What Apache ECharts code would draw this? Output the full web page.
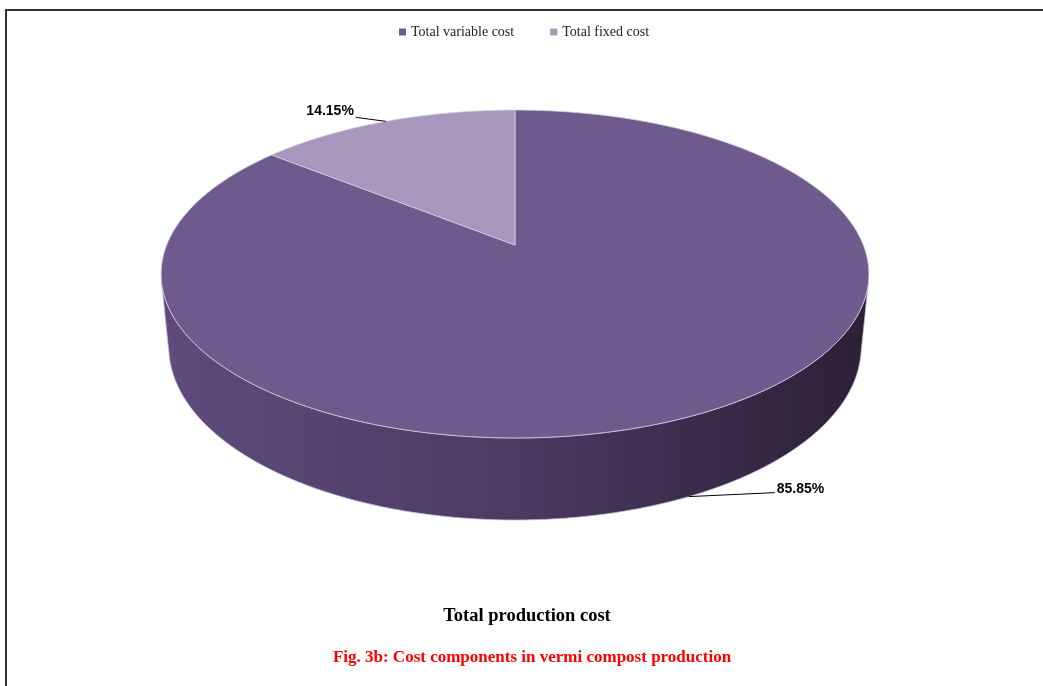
<!DOCTYPE html>
<html>
<head>
<meta charset="utf-8">
<script src="https://cdn.jsdelivr.net/npm/echarts@6/dist/echarts.min.js"></script>
<style>
  html, body { margin: 0; padding: 0; background: #fff; }
  #chart { width: 1043px; height: 686px; }
</style>
</head>
<body>
<div id="chart"></div>
<script>
// ---- data ----
const categories = ['Total variable cost', 'Total fixed cost'];
const values = [85.85, 14.15];
const chartTitle = 'Total production cost';
const caption = 'Fig. 3b: Cost components in vermi compost production';

// ---- styles / layout ----
const topColors = ['#6f5a8e', '#a797bc'];
const wallGradients = [
  ['#5f4b7c', '#4a3b62', '#2a2036'],
  ['#8a7aa2', '#76688e', '#554a66']
];
const LEADER = [86, 30];

// perspective projection of a tilted cylinder (pie)
const CX = 515, CY = 245, F = 1753, D = 5.033, H = 0.237;
const SA = 0.456, CA = Math.sqrt(1 - SA * SA);
function proj(theta, y) {
  const u = Math.sin(theta), v = Math.cos(theta);
  const yc = y * CA + v * SA;
  const zc = D - y * SA + v * CA;
  return [CX + F * u / zc, CY - F * yc / zc];
}
const VIS_LIMIT = -1 / (D * CA); // cos(theta) below this -> wall faces viewer
const visA = Math.acos(VIS_LIMIT), visB = 2 * Math.PI - visA;

const total = values.reduce((a, b) => a + b, 0);
function angles(i) {
  let s = 0;
  for (let k = 0; k < i; k++) s += values[k];
  return [s / total * 2 * Math.PI, (s + values[i]) / total * 2 * Math.PI];
}

function renderSlice(params, api) {
  const i = params.seriesIndex;
  const [a0, a1] = angles(i);
  const children = [];
  const step = Math.PI / 360;

  // outer wall (front-facing part only)
  const w0 = Math.max(a0, visA), w1 = Math.min(a1, visB);
  if (w1 > w0) {
    const pts = [];
    for (let t = w0; t < w1; t += step) pts.push(proj(t, 0));
    pts.push(proj(w1, 0));
    const bottom = [];
    for (let t = w0; t < w1; t += step) bottom.push(proj(t, -H));
    bottom.push(proj(w1, -H));
    const poly = pts.concat(bottom.reverse());
    const g = wallGradients[i];
    const grad = new echarts.graphic.LinearGradient(CX - 354, 0, CX + 354, 0, [
      { offset: 0, color: g[0] }, { offset: 0.5, color: g[1] }, { offset: 1, color: g[2] }
    ], true);
    children.push({
      type: 'polygon', z2: 1,
      shape: { points: poly },
      style: { fill: grad, stroke: '#c9c0d6', lineWidth: 0.8 }
    });
  }

  // top face
  const topPts = [[CX, CY]];
  for (let t = a0; t < a1; t += step) topPts.push(proj(t, 0));
  topPts.push(proj(a1, 0));
  children.push({
    type: 'polygon', z2: 10,
    shape: { points: topPts },
    style: { fill: topColors[i], stroke: '#d6cfe0', lineWidth: 0.8 }
  });

  // label with leader line
  const m = (a0 + a1) / 2;
  const front = Math.cos(m) < VIS_LIMIT;
  const anchor = proj(m, front ? -H : 0);
  const dir = Math.sin(m) >= 0 ? 1 : -1;
  const end = [anchor[0] + dir * LEADER[i], anchor[1] - 4];
  children.push({
    type: 'polyline', z2: 20,
    shape: { points: [anchor, end] },
    style: { stroke: '#000', lineWidth: 1, fill: null }
  });
  children.push({
    type: 'text', z2: 20,
    x: end[0] + dir * 2, y: end[1] - (front ? 3 : 6),
    style: {
      text: (values[i] / total * 100).toFixed(2) + '%',
      textAlign: dir > 0 ? 'left' : 'right',
      textVerticalAlign: 'middle',
      font: 'bold 14px "Liberation Sans", Arial, sans-serif',
      fill: '#000'
    }
  });
  return { type: 'group', children: children };
}

const chart = echarts.init(document.getElementById('chart'), null, { renderer: 'canvas' });
chart.setOption({
  animation: false,
  backgroundColor: '#fff',
  legend: {
    data: categories,
    top: 20,
    left: 394,
    itemGap: 36,
    itemWidth: 7,
    itemHeight: 7,
    icon: 'rect',
    textStyle: { fontFamily: '"Liberation Serif", "Times New Roman", serif', fontSize: 14, color: '#222' }
  },
  graphic: [
    {
      type: 'polyline',
      shape: { points: [[6, 686], [6, 10], [1043, 10]] },
      style: { stroke: '#333', lineWidth: 2, fill: null }
    },
    {
      type: 'text', x: 527, y: 616,
      style: {
        text: chartTitle, textAlign: 'center', textVerticalAlign: 'middle',
        font: 'bold 18.5px "Liberation Serif", "Times New Roman", serif', fill: '#000'
      }
    },
    {
      type: 'text', x: 532, y: 658,
      style: {
        text: caption, textAlign: 'center', textVerticalAlign: 'middle',
        font: 'bold 17px "Liberation Serif", "Times New Roman", serif', fill: '#ff0000'
      }
    }
  ],
  series: categories.map((name, i) => ({
    type: 'custom',
    name: name,
    coordinateSystem: 'none',
    itemStyle: { color: topColors[i] },
    data: [[values[i]]],
    renderItem: renderSlice
  }))
});
</script>
</body>
</html>
